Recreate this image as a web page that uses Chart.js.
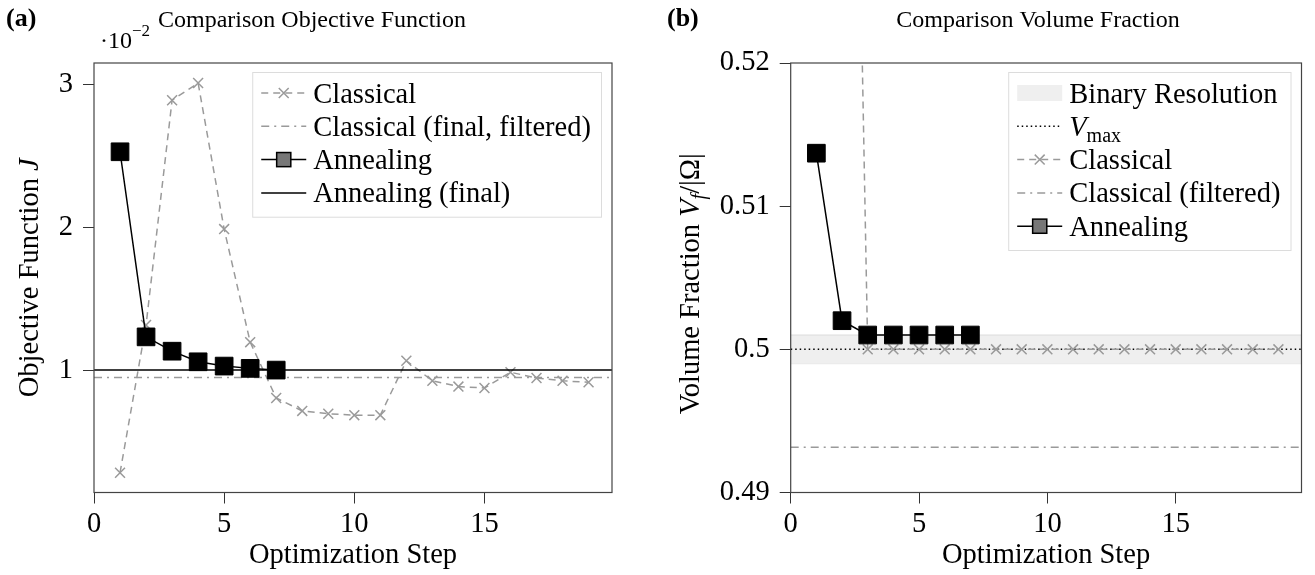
<!DOCTYPE html>
<html>
<head>
<meta charset="utf-8">
<script src="https://cdn.jsdelivr.net/npm/chart.js@4.4.1/dist/chart.umd.min.js"></script>
<style>
  html, body { margin: 0; padding: 0; background: #fff; }
  #wrap { position: relative; width: 1315px; height: 575px; }
  .box { position: absolute; top: 0; height: 575px; }
</style>
</head>
<body>
<div id="wrap">
  <div class="box" style="left:0;width:640px"><canvas id="chartA"></canvas></div>
  <div class="box" style="left:650px;width:665px"><canvas id="chartB"></canvas></div>
</div>
<script>
// data
const steps = [1, 2, 3, 4, 5, 6, 7, 8, 9, 10, 11, 12, 13, 14, 15, 16, 17, 18, 19];
const annealingSteps = [1, 2, 3, 4, 5, 6, 7];

const classicalJ = [0.00288, 0.0132, 0.0289, 0.0301, 0.0199, 0.0120, 0.0081, 0.0072, 0.0070, 0.0069,
                    0.0069, 0.0107, 0.0093, 0.0089, 0.0088, 0.0099, 0.0095, 0.0093, 0.0092];
const annealingJ = [0.0253, 0.01237, 0.01137, 0.01063, 0.01033, 0.01017, 0.01005];
const classicalFinalFilteredJ = 0.00954;
const annealingFinalJ = 0.01005;

const classicalV = [0.70, 0.595, 0.5, 0.5, 0.5, 0.5, 0.5, 0.5, 0.5, 0.5,
                    0.5, 0.5, 0.5, 0.5, 0.5, 0.5, 0.5, 0.5, 0.5];
const annealingV = [0.5137, 0.5020, 0.5010, 0.5010, 0.5010, 0.5010, 0.5010];
const classicalFilteredV = 0.49316;
const vMax = 0.5;
const binaryResolution = [0.499, 0.501];

const xRange = [0, 19.9];
const jRange = [0.0015, 0.0315];
const vRange = [0.49, 0.52];
const xTicks = [0, 5, 10, 15];
const jTicks = [0.01, 0.02, 0.03];
const vTicks = [0.49, 0.5, 0.51, 0.52];

const SERIF = '"Liberation Serif", "DejaVu Serif", serif';
const FS = 28.5;      // axis labels, ticks, legend
const TS = 24;        // titles
const GRAY = '#9a9a9a';

Chart.defaults.font.family = SERIF;
Chart.defaults.font.size = FS;
Chart.defaults.color = '#000';

const pts = (xs, ys) => xs.map((x, i) => ({ x: x, y: ys[i] }));
const hline = v => xRange.map(x => ({ x: x, y: v }));

// ---- rich text helpers (italic / subscripts) ----
function segFont(s) {
  return (s.italic ? 'italic ' : '') + (s.bold ? 'bold ' : '') + (s.size || FS) + 'px ' + SERIF;
}
function richWidth(ctx, segs) {
  let w = 0;
  segs.forEach(s => { ctx.font = segFont(s); w += ctx.measureText(s.t).width; });
  return w;
}
function drawRich(ctx, segs, x, y, align) {
  let cx = align === 'center' ? x - richWidth(ctx, segs) / 2 : x;
  ctx.textAlign = 'left';
  ctx.textBaseline = 'alphabetic';
  segs.forEach(s => {
    ctx.font = segFont(s);
    ctx.fillText(s.t, cx, y + (s.dy || 0));
    cx += ctx.measureText(s.t).width;
  });
}

function drawMarker(ctx, style, x, y, r, fill, stroke, lw) {
  ctx.save();
  ctx.setLineDash([]);
  ctx.lineWidth = lw;
  ctx.strokeStyle = stroke;
  if (style === 'crossRot') {
    const d = r * Math.SQRT1_2;
    ctx.beginPath();
    ctx.moveTo(x - d, y - d); ctx.lineTo(x + d, y + d);
    ctx.moveTo(x - d, y + d); ctx.lineTo(x + d, y - d);
    ctx.stroke();
  } else if (style === 'rect') {
    const d = r * Math.SQRT1_2;
    ctx.fillStyle = fill;
    ctx.fillRect(x - d, y - d, 2 * d, 2 * d);
    ctx.strokeRect(x - d, y - d, 2 * d, 2 * d);
  }
  ctx.restore();
}

function drawLegend(chart, rows) {
  const ctx = chart.ctx, ca = chart.chartArea;
  ctx.save();
  let tw = 0;
  rows.forEach(r => { tw = Math.max(tw, richWidth(ctx, r.label)); });
  const w = 61 + tw + 10, h = rows.length * 33.3 + 11.5;
  const right = ca.right - 11, top = ca.top + 9, left = right - w;
  ctx.fillStyle = '#fff';
  ctx.fillRect(left, top, w, h);
  ctx.strokeStyle = '#dcdcdc';
  ctx.lineWidth = 1;
  ctx.strokeRect(left + 0.5, top + 0.5, w, h);
  rows.forEach((r, i) => {
    const cy = top + 21 + 33.3 * i;
    const x0 = left + 9, x1 = left + 54, xm = (x0 + x1) / 2;
    const ds = chart.data.datasets[r.ds];
    if (r.band) {
      ctx.fillStyle = ds.backgroundColor;
      ctx.fillRect(x0, cy - 8, x1 - x0, 16);
    } else {
      ctx.strokeStyle = ds.borderColor;
      ctx.lineWidth = ds.borderWidth;
      ctx.setLineDash(ds.borderDash || []);
      ctx.beginPath(); ctx.moveTo(x0, cy); ctx.lineTo(x1, cy); ctx.stroke();
      ctx.setLineDash([]);
      if (r.marker) drawMarker(ctx, r.marker.style, xm, cy, r.marker.r, r.marker.fill, r.marker.stroke, r.marker.lw);
    }
    ctx.fillStyle = '#000';
    drawRich(ctx, r.label, left + 61, cy + 9.5, 'left');
  });
  ctx.restore();
}

function frameAndText(opts) {
  return {
    id: 'frameAndText',
    afterDraw(chart) {
      const ctx = chart.ctx, ca = chart.chartArea;
      ctx.save();
      ctx.strokeStyle = '#444';
      ctx.lineWidth = 1.2;
      ctx.setLineDash([]);
      ctx.strokeRect(ca.left, ca.top, ca.right - ca.left, ca.bottom - ca.top);
      ctx.fillStyle = '#000';
      opts.texts.forEach(t => drawRich(ctx, t.segs, t.x, t.y, t.align));
      // rotated y-axis title
      ctx.translate(opts.yTitle.x, (ca.top + ca.bottom) / 2 + (opts.yTitle.shift || 0));
      ctx.rotate(-Math.PI / 2);
      drawRich(ctx, opts.yTitle.segs, 0, 9.5, 'center');
      ctx.restore();
      drawLegend(chart, opts.legend);
    }
  };
}

function xScale() {
  return {
    type: 'linear', min: xRange[0], max: xRange[1],
    afterBuildTicks: s => { s.ticks = xTicks.map(v => ({ value: v })); },
    afterFit: s => { s.height = 82.5; },
    grid: { drawOnChartArea: false, drawTicks: true, tickLength: 11, color: '#333', lineWidth: 1 },
    border: { display: false },
    ticks: { padding: 4, maxRotation: 0, color: '#000' },
    title: { display: true, text: 'Optimization Step', padding: { top: 0, bottom: 2 }, color: '#000' }
  };
}
function yScale(range, ticks, width, fmt) {
  return {
    type: 'linear', min: range[0], max: range[1],
    afterBuildTicks: s => { s.ticks = ticks.map(v => ({ value: v })); },
    afterFit: s => { s.width = width; },
    grid: { drawOnChartArea: false, drawTicks: true, tickLength: 11, color: '#333', lineWidth: 1 },
    border: { display: false },
    ticks: { padding: 10, color: '#000', callback: fmt }
  };
}

const common = {
  responsive: true,
  maintainAspectRatio: false,
  animation: false,
  events: [],
  plugins: { legend: { display: false }, tooltip: { enabled: false } }
};

// ---------------- (a) objective function ----------------
new Chart(document.getElementById('chartA'), {
  type: 'line',
  data: {
    datasets: [
      { label: 'Annealing', data: pts(annealingSteps, annealingJ), order: 0,
        borderColor: '#000', borderWidth: 1.5, pointStyle: 'rect', pointRadius: 12.5,
        pointBackgroundColor: '#000', pointBorderColor: '#000', pointBorderWidth: 1 },
      { label: 'Annealing (final)', data: hline(annealingFinalJ), order: 1,
        borderColor: '#000', borderWidth: 1.5, pointRadius: 0 },
      { label: 'Classical', data: pts(steps, classicalJ), order: 2,
        borderColor: GRAY, borderWidth: 1.5, borderDash: [7, 5], pointStyle: 'crossRot',
        pointRadius: 7, pointBorderColor: GRAY, pointBorderWidth: 1.5 },
      { label: 'Classical (final, filtered)', data: hline(classicalFinalFilteredJ), order: 3,
        borderColor: GRAY, borderWidth: 1.5, borderDash: [8, 5, 2, 5], pointRadius: 0 }
    ]
  },
  options: Object.assign({}, common, {
    layout: { padding: { top: 63, right: 28, left: 0, bottom: 0 } },
    scales: {
      x: xScale(),
      y: yScale(jRange, jTicks, 94, v => String(Math.round(v * 100)))
    }
  }),
  plugins: [frameAndText({
    texts: [
      { segs: [{ t: '(a)', bold: true, size: 26 }], x: 6, y: 26, align: 'left' },
      { segs: [{ t: '·10', size: TS }, { t: '−2', size: 17, dy: -12 }], x: 100, y: 48, align: 'left' },
      { segs: [{ t: 'Comparison Objective Function', size: TS }], x: 312, y: 27, align: 'center' }
    ],
    yTitle: { x: 28, segs: [{ t: 'Objective Function ' }, { t: 'J', italic: true }] },
    legend: [
      { ds: 2, label: [{ t: 'Classical' }], marker: { style: 'crossRot', r: 7, fill: GRAY, stroke: GRAY, lw: 1.5 } },
      { ds: 3, label: [{ t: 'Classical (final, filtered)' }] },
      { ds: 0, label: [{ t: 'Annealing' }], marker: { style: 'rect', r: 10, fill: '#777', stroke: '#000', lw: 1.5 } },
      { ds: 1, label: [{ t: 'Annealing (final)' }] }
    ]
  })]
});

// ---------------- (b) volume fraction ----------------
new Chart(document.getElementById('chartB'), {
  type: 'line',
  data: {
    datasets: [
      { label: 'Annealing', data: pts(annealingSteps, annealingV), order: 0,
        borderColor: '#000', borderWidth: 1.5, pointStyle: 'rect', pointRadius: 12.5,
        pointBackgroundColor: '#000', pointBorderColor: '#000', pointBorderWidth: 1 },
      { label: 'Classical', data: pts(steps, classicalV), order: 1,
        borderColor: GRAY, borderWidth: 1.5, borderDash: [7, 5], pointStyle: 'crossRot',
        pointRadius: 7, pointBorderColor: GRAY, pointBorderWidth: 1.5 },
      { label: 'Vmax', data: hline(vMax), order: 2,
        borderColor: '#000', borderWidth: 1.5, borderDash: [1.5, 3], pointRadius: 0 },
      { label: 'Classical (filtered)', data: hline(classicalFilteredV), order: 3,
        borderColor: GRAY, borderWidth: 1.5, borderDash: [8, 5, 2, 5], pointRadius: 0 },
      { label: 'Binary Resolution', data: hline(binaryResolution[1]), order: 4,
        borderColor: '#dcdcdc', borderWidth: 1, backgroundColor: '#efefef', pointRadius: 0, fill: '+1' },
      { label: 'Binary Resolution (low)', data: hline(binaryResolution[0]), order: 5,
        borderColor: '#dcdcdc', borderWidth: 1, pointRadius: 0 }
    ]
  },
  options: Object.assign({}, common, {
    layout: { padding: { top: 63, right: 11, left: 0, bottom: 0 } },
    scales: {
      x: xScale(),
      y: yScale(vRange, vTicks, 140.7, v => String(v))
    }
  }),
  plugins: [frameAndText({
    texts: [
      { segs: [{ t: '(b)', bold: true, size: 26 }], x: 17, y: 26, align: 'left' },
      { segs: [{ t: 'Comparison Volume Fraction', size: TS }], x: 388, y: 27, align: 'center' }
    ],
    yTitle: { x: 39, shift: 6, segs: [{ t: 'Volume Fraction ' }, { t: 'V', italic: true },
                            { t: 'f', italic: true, size: 20, dy: 6 }, { t: '/|Ω|' }] },
    legend: [
      { ds: 4, band: true, label: [{ t: 'Binary Resolution' }] },
      { ds: 2, label: [{ t: 'V', italic: true }, { t: 'max', size: 20, dy: 6 }] },
      { ds: 1, label: [{ t: 'Classical' }], marker: { style: 'crossRot', r: 7, fill: GRAY, stroke: GRAY, lw: 1.5 } },
      { ds: 3, label: [{ t: 'Classical (filtered)' }] },
      { ds: 0, label: [{ t: 'Annealing' }], marker: { style: 'rect', r: 10, fill: '#777', stroke: '#000', lw: 1.5 } }
    ]
  })]
});
</script>
</body>
</html>
